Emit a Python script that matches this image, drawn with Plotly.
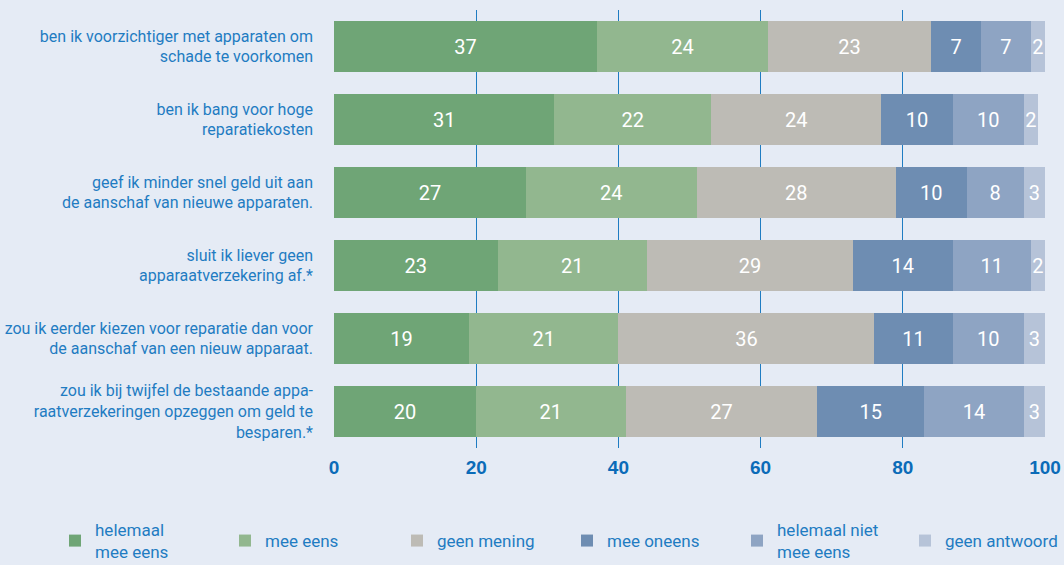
import plotly.graph_objects as go

vragen = [
    "ben ik voorzichtiger met apparaten om<br>schade te voorkomen",
    "ben ik bang voor hoge<br>reparatiekosten",
    "geef ik minder snel geld uit aan<br>de aanschaf van nieuwe apparaten.",
    "sluit ik liever geen<br>apparaatverzekering af.*",
    "zou ik eerder kiezen voor reparatie dan voor<br>de aanschaf van een nieuw apparaat.",
    "zou ik bij twijfel de bestaande appa-<br>raatverzekeringen opzeggen om geld te<br>besparen.*",
]
antwoorden = ["helemaal<br>mee eens", "mee eens", "geen mening", "mee oneens",
              "helemaal niet<br>mee eens", "geen antwoord"]

helemaal_eens = [37, 31, 27, 23, 19, 20]
mee_eens = [24, 22, 24, 21, 21, 21]
geen_mening = [23, 24, 28, 29, 36, 27]
mee_oneens = [7, 10, 10, 14, 11, 15]
helemaal_oneens = [7, 10, 8, 11, 10, 14]
geen_antwoord = [2, 2, 3, 2, 3, 3]

reeksen = [helemaal_eens, mee_eens, geen_mening, mee_oneens, helemaal_oneens, geen_antwoord]
kleuren = ["#6fa576", "#92b78f", "#bdbbb5", "#6e8db2", "#8ea4c3", "#b6c3d8"]
blauw = "#1f7cc2"
lettertype = "Roboto, Arial"

# one legend per entry so every item can sit on its own spot in the bottom row
legenda_x = [55, 225, 397, 567, 737, 905]

fig = go.Figure()
for i, (naam, waarden, kleur) in enumerate(zip(antwoorden, reeksen, kleuren)):
    fig.add_trace(go.Bar(
        y=vragen, x=waarden, name=naam, orientation="h",
        marker=dict(color=kleur, line=dict(width=0)),
        text=[str(v) for v in waarden], textposition="inside",
        insidetextanchor="middle", constraintext="none",
        textfont=dict(color="white", size=20, family=lettertype),
        hoverinfo="x+name",
        legend="legend" if i == 0 else "legend" + str(i + 1),
    ))

lay = dict(
    barmode="stack", bargap=0.29,
    width=1064, height=565,
    margin=dict(l=334, r=19, t=10, b=117, autoexpand=False),
    paper_bgcolor="#e5ebf5", plot_bgcolor="rgba(0,0,0,0)",
    font=dict(family=lettertype, color=blauw),
    showlegend=True,
)
for i, lx in enumerate(legenda_x):
    key = "legend" if i == 0 else "legend" + str(i + 1)
    lay[key] = dict(xref="container", yref="container",
                    x=lx / 1064, y=1 - 541 / 565, xanchor="left", yanchor="middle",
                    font=dict(size=17, color=blauw, family=lettertype),
                    bgcolor="rgba(0,0,0,0)")
fig.update_layout(**lay)

fig.update_xaxes(range=[0, 100], dtick=20, showgrid=True, gridcolor=blauw, gridwidth=1,
                 zeroline=False, showline=False, ticks="", automargin=False,
                 tickfont=dict(size=19, color="#0b6bb8", family="Liberation Sans, Arial"),
                 tickprefix="<b>", ticksuffix="</b>", ticklabelstandoff=6)
fig.update_yaxes(autorange="reversed", showgrid=False, ticks="", automargin=False,
                 tickfont=dict(size=16, color=blauw, family=lettertype),
                 ticklabelstandoff=20)

fig.write_html("out.html", config={"displayModeBar": False},
               post_script="document.body.style.margin='0';document.body.style.overflow='hidden';")
